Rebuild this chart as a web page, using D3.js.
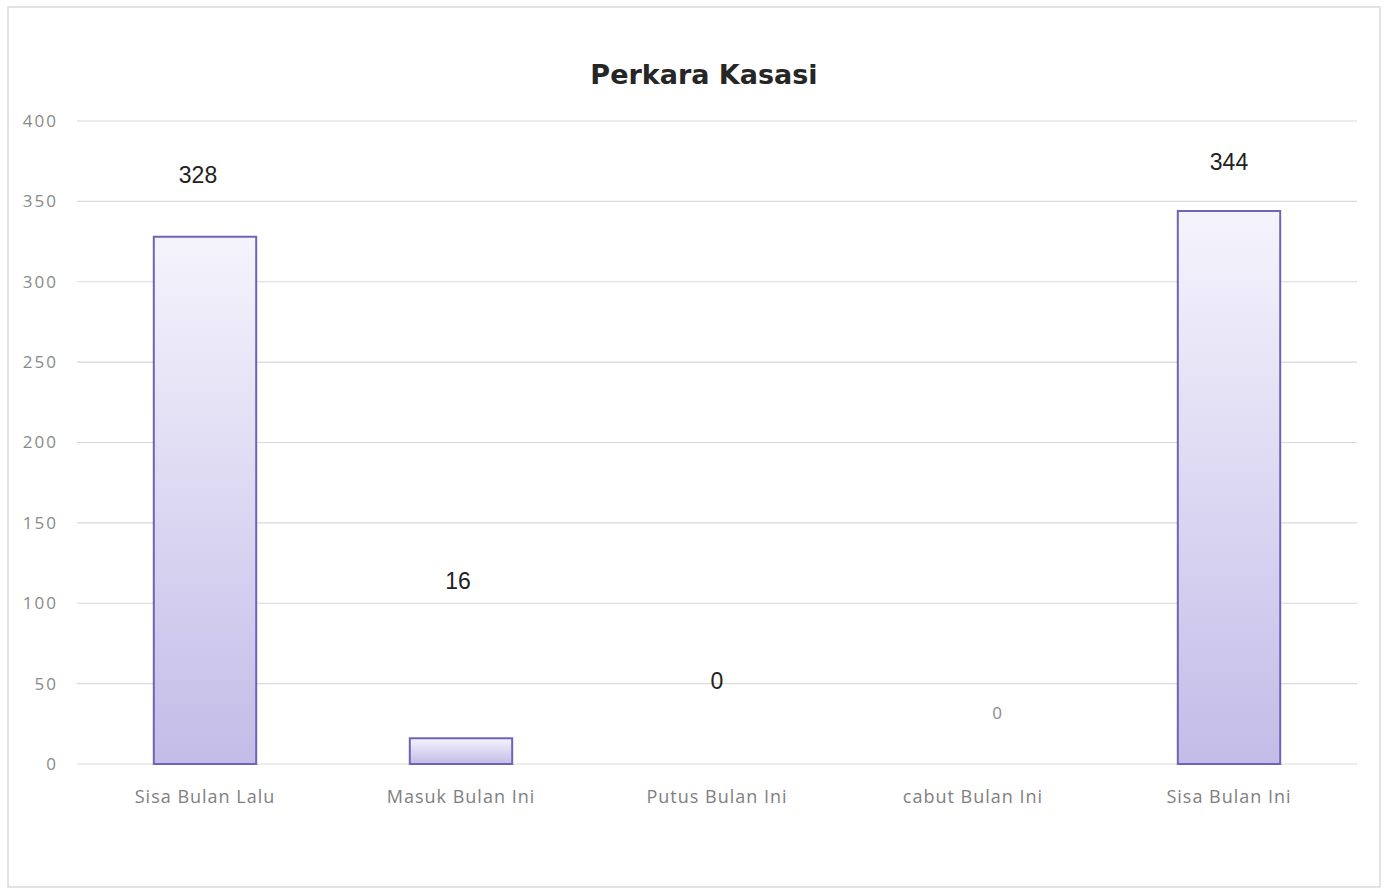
<!DOCTYPE html>
<html>
<head>
<meta charset="utf-8">
<script src="https://cdn.jsdelivr.net/npm/d3@7"></script>
<style>
  body{margin:0;background:#fff;}
  svg{display:block;}
</style>
</head>
<body>
<div class="chart"></div>
<script>
let categories=['Sisa Bulan Lalu','Masuk Bulan Ini','Putus Bulan Ini','cabut Bulan Ini','Sisa Bulan Ini']
let values=[328,16,0,0,344]
let yTicks=[0,50,100,150,200,250,300,350,400]
let title='Perkara Kasasi'

// the scanned labels sit at odd spots, nudge each one by hand (px)
let labelLift=[54,149,75,45,41]
let labelNudge=[-7,-3,0,24,0]

let w=1386, h=890
let svg=d3.select('.chart').append('svg').attr('width',w).attr('height',h)

let defs=svg.append('defs')
let grad=defs.append('linearGradient').attr('id','barfill').attr('x1',0).attr('y1',0).attr('x2',0).attr('y2',1)
grad.append('stop').attr('offset','0%').attr('stop-color','#f5f4fc')
grad.append('stop').attr('offset','100%').attr('stop-color','#c3bce8')

// chart border
svg.append('rect').attr('x',8).attr('y',7).attr('width',1372).attr('height',880)
  .attr('fill','#fff').attr('stroke','#dadada').attr('stroke-width',1.5)

let xScale=d3.scaleBand().domain(categories).range([77,1357]).paddingInner(0.6).paddingOuter(0.3)
let yScale=d3.scaleLinear().domain([0,400]).range([764,121])

// gridlines
svg.append('g').selectAll('line').data(yTicks).enter().append('line')
  .attr('x1',77).attr('x2',1357)
  .attr('y1',d=>yScale(d)).attr('y2',d=>yScale(d))
  .attr('stroke','#d9d9d9').attr('stroke-width',1.2)

let yAxis=d3.axisLeft(yScale).tickValues(yTicks).tickSize(0).tickPadding(0)
let gy=svg.append('g').attr('transform','translate(58,0)').call(yAxis)
gy.select('.domain').remove()
gy.selectAll('text').attr('fill','#8a8a8a').style('font-family','"Open Sans", sans-serif').style('font-size','17px').style('letter-spacing','2px')

let xAxis=d3.axisBottom(xScale).tickSize(0).tickPadding(0)
let gx=svg.append('g').attr('transform','translate(0,'+790+')').call(xAxis)
gx.select('.domain').remove()
gx.selectAll('text').attr('fill','#7f7f7f').style('font-family','"Open Sans", sans-serif').style('font-size','18px').style('letter-spacing','1px')

svg.append('g').selectAll('rect').data(values).enter().append('rect')
  .attr('x',(d,i)=>xScale(categories[i]))
  .attr('y',d=>yScale(d))
  .attr('width',xScale.bandwidth())
  .attr('height',d=>yScale(0)-yScale(d))
  .attr('fill','url(#barfill)')
  .attr('stroke','#6f64b4').attr('stroke-width',2)
  .style('display',d=>d>0?null:'none')

svg.append('g').selectAll('text').data(values).enter().append('text')
  .attr('x',(d,i)=>xScale(categories[i])+xScale.bandwidth()/2+labelNudge[i])
  .attr('y',(d,i)=>yScale(d)-labelLift[i])
  .attr('text-anchor','middle')
  .attr('fill',(d,i)=>i==3?'#8a8a8a':'#222')
  .style('font-family',(d,i)=>i==3?'"Open Sans", sans-serif':'"Liberation Sans", Arial, sans-serif')
  .style('font-size',(d,i)=>i==3?'17px':'23px')
  .text(d=>d)

svg.append('text').text(title).attr('x',704).attr('y',84).attr('text-anchor','middle')
  .attr('fill','#262626').style('font-family','"DejaVu Sans", sans-serif').style('font-weight','bold').style('font-size','27px')
</script>
</body>
</html>
